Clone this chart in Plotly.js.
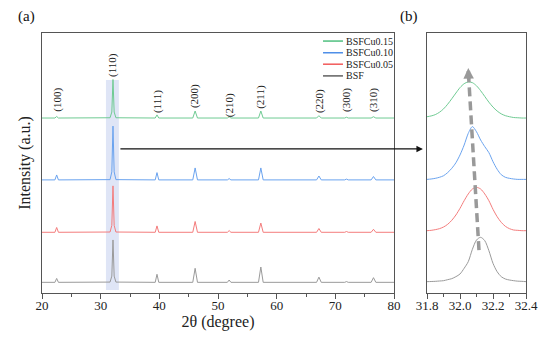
<!DOCTYPE html>
<html>
<head>
<meta charset="utf-8">
<script src="https://cdn.plot.ly/plotly-3.0.1.min.js"></script>
<style>html,body{margin:0;padding:0;background:#fff;}#chart{width:550px;height:340px;}</style>
</head>
<body>
<div id="chart"></div>
<script>
// ---------- data ----------
var seriesNames = ['BSFCu0.15', 'BSFCu0.10', 'BSFCu0.05', 'BSF'];
var lineColors = ['#6fcb93', '#6aa3ef', '#f47c7c', '#9a9a9a'];
var legendColors = ['#4fbf7f', '#4f8fe8', '#f25a5a', '#606060'];

// full pattern (panel a), 2theta in degrees, stacked intensity (a.u.)
var xFull = [20, 22.2, 22.5, 22.8, 31.6, 31.9, 32.1, 32.3, 32.6, 39.3, 39.6, 39.9, 45.7, 46.1, 46.5,
             51.6, 51.9, 52.2, 56.9, 57.3, 57.7, 66.8, 67.2, 67.6, 71.6, 71.9, 72.2, 76.1, 76.5, 76.9, 80];
var yFullCu015 = [67.3, 67.3, 67.9, 67.3, 67.4, 69.6, 82.1, 69.6, 67.4, 67.3, 68.5, 67.3, 67.3, 70.0, 67.3,
                  67.3, 67.8, 67.3, 67.3, 70.0, 67.3, 67.3, 68.2, 67.3, 67.3, 67.6, 67.3, 67.3, 67.8, 67.3, 67.3];
var yFullCu010 = [43.5, 43.5, 45.4, 43.5, 43.6, 46.6, 64.2, 46.6, 43.6, 43.5, 46.3, 43.5, 43.5, 48.1, 43.5,
                  43.5, 44.0, 43.5, 43.5, 48.1, 43.5, 43.5, 45.0, 43.5, 43.5, 43.8, 43.5, 43.5, 44.8, 43.5, 43.5];
var yFullCu005 = [23.35, 23.35, 25.2, 23.35, 23.45, 26.0, 41.2, 26.0, 23.45, 23.35, 25.8, 23.35, 23.35, 27.5, 23.35,
                  23.35, 24.0, 23.35, 23.35, 26.9, 23.35, 23.35, 24.8, 23.35, 23.35, 23.65, 23.35, 23.35, 24.5, 23.35, 23.35];
var yFullBSF   = [4.1, 4.1, 5.6, 4.1, 4.2, 6.5, 20.4, 6.5, 4.2, 4.1, 7.2, 4.1, 4.1, 9.5, 4.1,
                  4.1, 5.0, 4.1, 4.1, 10.0, 4.1, 4.1, 6.1, 4.1, 4.1, 4.4, 4.1, 4.1, 5.9, 4.1, 4.1];

// zoomed (110) peak (panel b)
var xZoom = [31.800, 31.825, 31.850, 31.875, 31.900, 31.925, 31.950, 31.975, 32.000, 32.025, 32.050, 32.075, 32.100,
             32.125, 32.150, 32.175, 32.200, 32.225, 32.250, 32.275, 32.300, 32.325, 32.350, 32.375, 32.400];
var yZoomCu015 = [67.8, 68.1, 68.6, 69.5, 70.8, 72.6, 74.7, 76.9, 79.0, 80.5, 81.2, 80.9, 79.7,
                  77.8, 75.6, 73.4, 71.5, 70.0, 68.9, 68.2, 67.8, 67.5, 67.4, 67.3, 67.3];
var yZoomCu010 = [43.7, 43.85, 44.1, 44.5, 45.1, 46.3, 47.95, 50.1, 53.1, 56.9, 61.4, 64.0, 62.0,
                  58.85, 56.3, 54.0, 50.5, 47.6, 45.5, 44.5, 44.1, 43.85, 43.7, 43.7, 43.7];
var yZoomCu005 = [23.97, 24.1, 24.36, 24.74, 25.38, 26.41, 27.95, 30.0, 32.56, 35.5, 38.1, 40.0, 40.64,
                  40.0, 38.1, 35.5, 32.18, 29.36, 27.18, 25.64, 24.74, 24.23, 24.1, 23.97, 23.97];
var yZoomBSF   = [4.36, 4.42, 4.49, 4.61, 4.74, 5.13, 5.51, 6.28, 7.31, 9.5, 12.05, 16.8, 20.38,
                  21.41, 20.13, 16.28, 11.4, 8.2, 6.28, 5.38, 4.99, 4.74, 4.55, 4.49, 4.36];

// Miller index labels
var hklLabels = ['(100)', '(110)', '(111)', '(200)', '(210)', '(211)', '(220)', '(300)', '(310)'];
var hklX = [22.5, 32.1, 39.6, 46.1, 51.9, 57.3, 67.2, 71.8, 76.4];
var hklY = [74.2, 87.7, 73.8, 75.8, 72.3, 75.4, 73.8, 74.2, 74.2];

// peak-shift trend arrow (panel b): from BSF to BSFCu0.15
var shiftX = [32.115, 32.05];
var shiftY = [16.5, 86.5];

// ---------- figure ----------
var fullY = [yFullCu015, yFullCu010, yFullCu005, yFullBSF];
var zoomY = [yZoomCu015, yZoomCu010, yZoomCu005, yZoomBSF];
var traces = [];
for (var i = 0; i < 4; i++) {
  traces.push({x: xFull, y: fullY[i], type: 'scatter', mode: 'lines', xaxis: 'x', yaxis: 'y',
    line: {color: lineColors[i], width: 1}, showlegend: false, hoverinfo: 'skip'});
  traces.push({x: xZoom, y: zoomY[i], type: 'scatter', mode: 'lines', xaxis: 'x2', yaxis: 'y2',
    line: {color: lineColors[i], width: 1, shape: 'spline', smoothing: 0.8}, showlegend: false, hoverinfo: 'skip'});
}

var serif = '"Liberation Serif", "Times New Roman", serif';
var axisCol = '#555555';

var shapes = [
  // highlight band around (110)
  {type: 'rect', xref: 'x', yref: 'y', x0: 30.9, x1: 33.1, y0: 1.2, y1: 81.9,
   fillcolor: 'rgba(196,208,238,0.55)', line: {width: 0}, layer: 'below'},
  // dashed trend line
  {type: 'line', xref: 'x2', yref: 'y2', x0: shiftX[0], y0: shiftY[0], x1: shiftX[1] + 0.002, y1: shiftY[1] - 3,
   line: {color: '#999999', width: 3.5, dash: '9px,5px'}}
];
var annotations = [];
// legend (manual, compact)
var legY = [96.9, 92.4, 88.0, 83.5];
for (var k = 0; k < 4; k++) {
  shapes.push({type: 'line', xref: 'x', yref: 'y', x0: 67.9, x1: 71.3, y0: legY[k], y1: legY[k],
    line: {color: legendColors[k], width: 1.5}});
  annotations.push({xref: 'x', yref: 'y', x: 71.5, y: legY[k], text: seriesNames[k], showarrow: false,
    xanchor: 'left', yanchor: 'middle', font: {family: serif, size: 10, color: '#222'}});
}
// hkl labels
for (var h = 0; h < hklLabels.length; h++) {
  annotations.push({xref: 'x', yref: 'y', x: hklX[h], y: hklY[h], text: hklLabels[h], showarrow: false,
    textangle: -90, xanchor: 'center', yanchor: 'middle', font: {family: serif, size: 11, color: '#222'}});
}
// panel labels
annotations.push({xref: 'paper', yref: 'paper', x: -0.031, y: 1.062, text: '(a)', showarrow: false,
  xanchor: 'center', yanchor: 'middle', font: {family: serif, size: 15, color: '#111'}});
annotations.push({xref: 'paper', yref: 'paper', x: 0.758, y: 1.062, text: '(b)', showarrow: false,
  xanchor: 'center', yanchor: 'middle', font: {family: serif, size: 15, color: '#111'}});
// horizontal arrow from highlight to panel b
annotations.push({xref: 'paper', yref: 'y', x: 0.787, y: 55.4, ax: -304, ay: 0, text: '', showarrow: true,
  arrowhead: 2, arrowsize: 1, arrowwidth: 1.3, arrowcolor: '#111'});
// head of the dashed trend arrow
annotations.push({xref: 'x2', yref: 'y2', x: shiftX[1], y: shiftY[1], axref: 'x2', ayref: 'y2',
  ax: shiftX[1] + 0.003, ay: shiftY[1] - 5, text: '', showarrow: true,
  arrowhead: 2, arrowsize: 0.6, arrowwidth: 3.5, arrowcolor: '#999999'});

var layout = {
  width: 550, height: 340,
  margin: {l: 42, r: 24, t: 33, b: 47, pad: 0},
  paper_bgcolor: '#ffffff', plot_bgcolor: '#ffffff',
  font: {family: serif, color: '#222'},
  showlegend: false,
  xaxis: {domain: [0, 0.7273], range: [20, 80], dtick: 10, tick0: 20, ticks: 'outside', ticklen: 5,
    tickcolor: axisCol, showline: true, linecolor: axisCol, linewidth: 1, mirror: true, showgrid: false,
    zeroline: false, tickfont: {family: serif, size: 13, color: '#222'}, ticklabelstandoff: -5,
    minor: {dtick: 5, ticks: 'outside', ticklen: 2.5, tickcolor: axisCol},
    title: {text: '2θ (degree)', font: {family: serif, size: 16, color: '#222'}, standoff: 2}},
  yaxis: {domain: [0, 1], range: [0, 100], showticklabels: false, ticks: '', showline: true,
    linecolor: axisCol, linewidth: 1, mirror: true, showgrid: false, zeroline: false,
    title: {text: 'Intensity (a.u.)', font: {family: serif, size: 16, color: '#222'}, standoff: 6}},
  xaxis2: {domain: [0.7955, 1], anchor: 'y2', range: [31.8, 32.4], dtick: 0.2, tick0: 31.8, ticks: 'outside',
    ticklen: 5, tickcolor: axisCol, tickformat: '.1f', showline: true, linecolor: axisCol, linewidth: 1,
    mirror: true, showgrid: false, zeroline: false, tickfont: {family: serif, size: 13, color: '#222'},
    ticklabelstandoff: -5,
    minor: {dtick: 0.1, ticks: 'outside', ticklen: 2.5, tickcolor: axisCol}},
  yaxis2: {domain: [0, 1], anchor: 'x2', range: [0, 100], showticklabels: false, ticks: '', showline: true,
    linecolor: axisCol, linewidth: 1, mirror: true, showgrid: false, zeroline: false},
  shapes: shapes,
  annotations: annotations
};

Plotly.newPlot('chart', traces, layout, {displayModeBar: false, staticPlot: true});
</script>
</body>
</html>
